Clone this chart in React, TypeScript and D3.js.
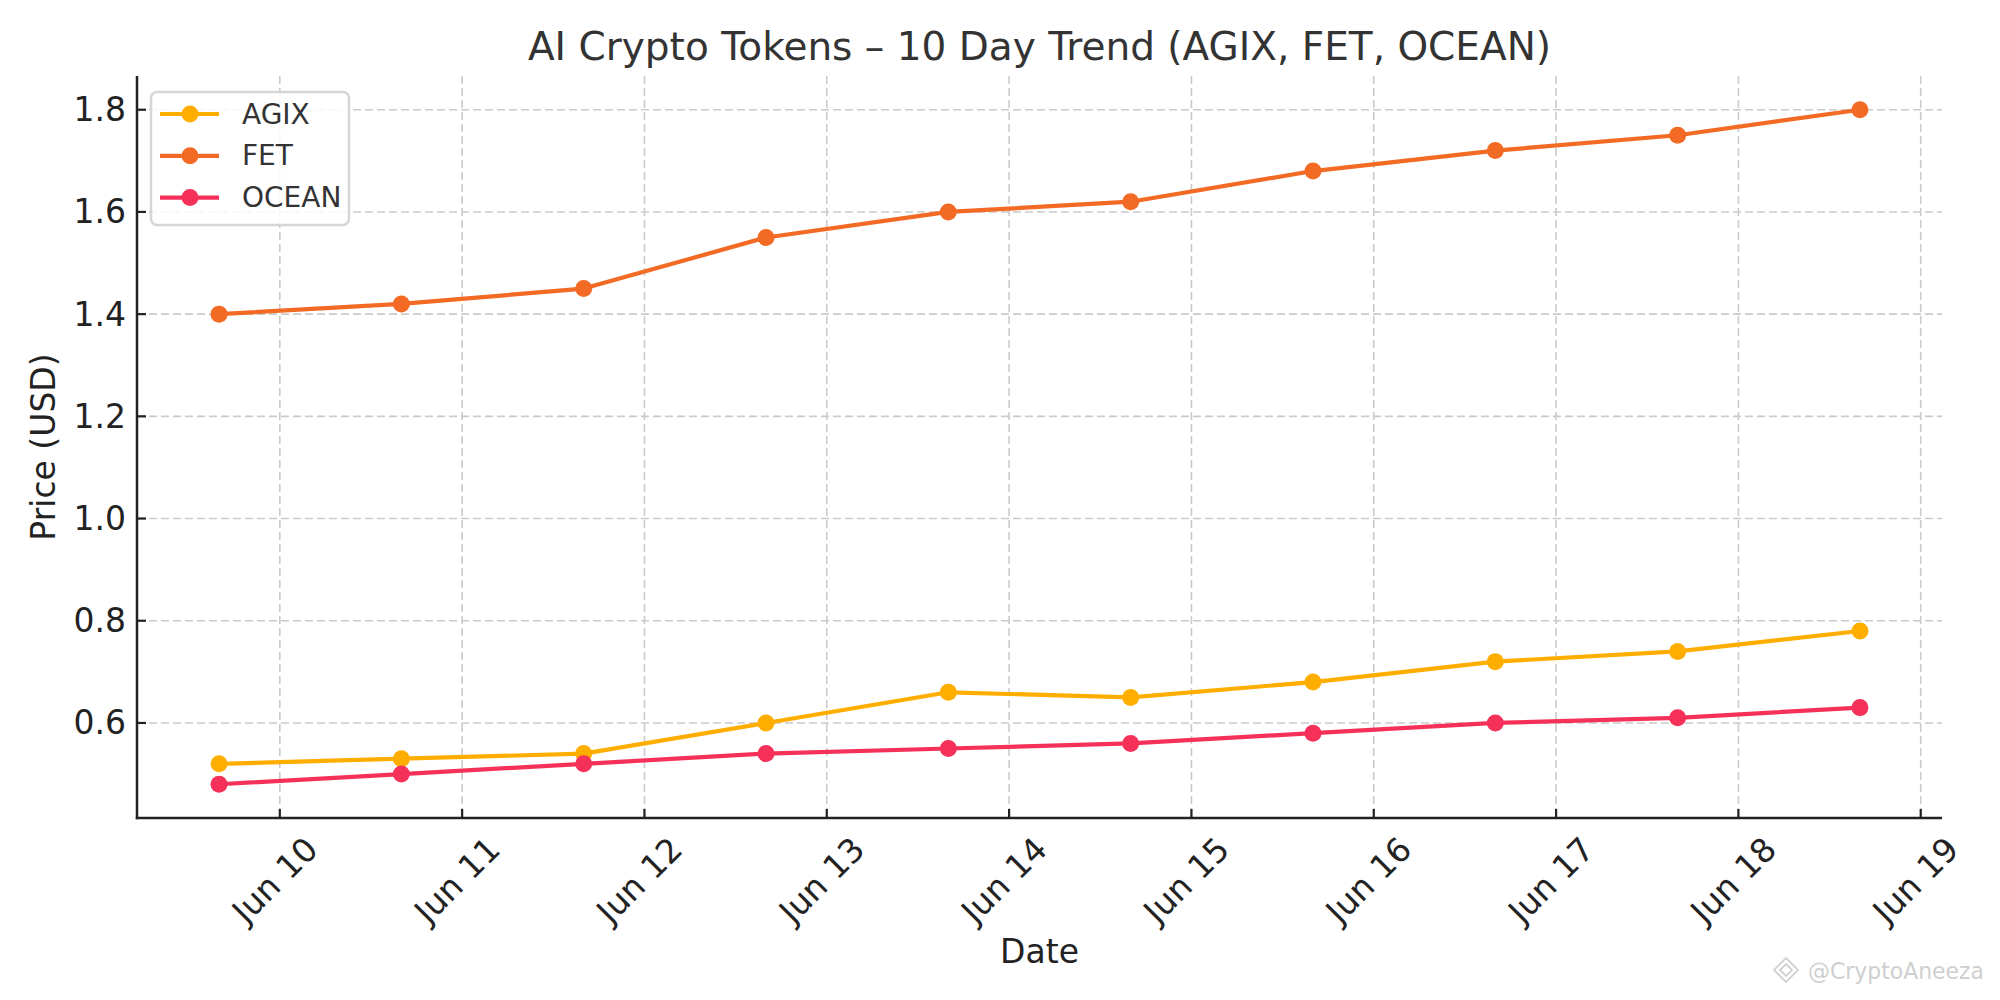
import React from 'react';
import * as d3 from 'd3';

// daily closes, sampled at 16:00 each day
const dates = [
  new Date(2024, 5, 9, 16), new Date(2024, 5, 10, 16), new Date(2024, 5, 11, 16),
  new Date(2024, 5, 12, 16), new Date(2024, 5, 13, 16), new Date(2024, 5, 14, 16),
  new Date(2024, 5, 15, 16), new Date(2024, 5, 16, 16), new Date(2024, 5, 17, 16),
  new Date(2024, 5, 18, 16),
];
const agix = [0.52, 0.53, 0.54, 0.60, 0.66, 0.65, 0.68, 0.72, 0.74, 0.78];
const fet = [1.40, 1.42, 1.45, 1.55, 1.60, 1.62, 1.68, 1.72, 1.75, 1.80];
const ocean = [0.48, 0.50, 0.52, 0.54, 0.55, 0.56, 0.58, 0.60, 0.61, 0.63];
const seriesNames = ['AGIX', 'FET', 'OCEAN'];
const yTicks = [0.6, 0.8, 1.0, 1.2, 1.4, 1.6, 1.8];

const colors = ['#FFAE00', '#F26A24', '#F5315A'];
const W = 2000;
const H = 1000;
const m = { left: 137, right: 1942, top: 76, bottom: 818 };
const font = '"DejaVu Sans", sans-serif';

export default function App() {
  const t0 = +dates[0];
  const t1 = +dates[dates.length - 1];
  const pad = (t1 - t0) * 0.05;
  const x = d3.scaleTime()
    .domain([new Date(t0 - pad), new Date(t1 + pad)])
    .range([m.left, m.right]);

  const all = [...agix, ...fet, ...ocean];
  const lo = d3.min(all)!;
  const hi = d3.max(all)!;
  const yp = (hi - lo) * 0.05;
  const y = d3.scaleLinear().domain([lo - yp, hi + yp]).range([m.bottom, m.top]);

  const xTicks = d3.timeDay.range(new Date(2024, 5, 10), new Date(2024, 5, 19, 1));
  const fmt = d3.timeFormat('%b %d');

  const line = d3.line<number>()
    .x((_, i) => x(dates[i]))
    .y(d => y(d));

  const series = [agix, fet, ocean];

  return (
    <svg width={W} height={H} style={{ position: 'absolute', left: 0, top: 0, background: '#fff' }}
      fontFamily={font}>
      <rect width={W} height={H} fill="#fff" />

      {/* grid */}
      {xTicks.map(t => (
        <line key={'gx' + +t} x1={x(t)} x2={x(t)} y1={m.top} y2={m.bottom}
          stroke="#cacaca" strokeWidth={1.6} strokeDasharray="8,4" />
      ))}
      {yTicks.map(v => (
        <line key={'gy' + v} x1={m.left} x2={m.right} y1={y(v)} y2={y(v)}
          stroke="#cacaca" strokeWidth={1.6} strokeDasharray="8,4" />
      ))}

      {/* series */}
      {series.map((s, k) => (
        <g key={seriesNames[k]}>
          <path d={line(s) ?? ''} fill="none" stroke={colors[k]} strokeWidth={4.2} strokeLinejoin="round" />
          {s.map((v, i) => (
            <circle key={i} cx={x(dates[i])} cy={y(v)} r={8.5} fill={colors[k]} />
          ))}
        </g>
      ))}

      {/* spines + inward ticks */}
      <line x1={m.left} x2={m.left} y1={m.top} y2={m.bottom + 1.2} stroke="#222" strokeWidth={2.5} />
      <line x1={m.left - 1.2} x2={m.right} y1={m.bottom} y2={m.bottom} stroke="#222" strokeWidth={2.5} />
      {yTicks.map(v => (
        <g key={'ty' + v}>
          <line x1={m.left} x2={m.left + 9} y1={y(v)} y2={y(v)} stroke="#222" strokeWidth={2.2} />
          <text x={126} y={y(v)} textAnchor="end" dominantBaseline="central" fontSize={33} fill="#222">
            {d3.format('.1f')(v)}
          </text>
        </g>
      ))}
      {xTicks.map(t => (
        <g key={'tx' + +t}>
          <line x1={x(t)} x2={x(t)} y1={m.bottom} y2={m.bottom - 9} stroke="#222" strokeWidth={2.2} />
          <text transform={`translate(${x(t) - 5},${880}) rotate(-45)`} textAnchor="middle"
            dominantBaseline="central" fontSize={33} fill="#222">
            {fmt(t)}
          </text>
        </g>
      ))}

      {/* labels */}
      <text x={(m.left + m.right) / 2} y={60} textAnchor="middle" fontSize={39} fill="#333">
        AI Crypto Tokens – 10 Day Trend (AGIX, FET, OCEAN)
      </text>
      <text x={(m.left + m.right) / 2} y={963} textAnchor="middle" fontSize={33} fill="#222">Date</text>
      <text transform={`translate(55,${(m.top + m.bottom) / 2}) rotate(-90)`} textAnchor="middle"
        fontSize={33} fill="#222">Price (USD)</text>

      {/* legend */}
      <rect x={151} y={92} width={198} height={133} rx={6} fill="#fff" fillOpacity={0.85}
        stroke="#d6d6d6" strokeWidth={2.5} />
      {seriesNames.map((n, k) => {
        const ly = 114 + k * 41.8;
        return (
          <g key={'lg' + n}>
            <line x1={160} x2={219} y1={ly} y2={ly} stroke={colors[k]} strokeWidth={4.2} />
            <circle cx={190} cy={ly} r={8.5} fill={colors[k]} />
            <text x={242} y={ly} dominantBaseline="central" fontSize={28} fill="#333">{n}</text>
          </g>
        );
      })}

      {/* watermark */}
      <g>
        <path d="M1786,958 l12,12 l-12,12 l-12,-12 z M1786,964 l6,6 l-6,6 l-6,-6 z"
          fill="none" stroke="#d0d0d0" strokeWidth={1.8} />
        <text x={1984} y={979} textAnchor="end" fontSize={23} textLength={176}
          lengthAdjust="spacingAndGlyphs" fill="#cfcfcf">@CryptoAneeza</text>
      </g>
    </svg>
  );
}
